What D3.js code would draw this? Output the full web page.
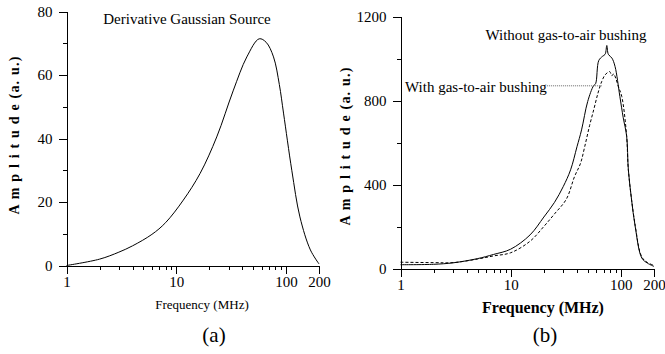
<!doctype html>
<html>
<head>
<script src="https://cdn.jsdelivr.net/npm/d3@7"></script>
<style>
  body { margin: 0; background: #fff; }
  svg { display: block; font-family: "Liberation Serif", "DejaVu Serif", serif; }
  svg text { font-family: "Liberation Serif", "DejaVu Serif", serif !important; }
  .axis path, .axis line { stroke: #000; stroke-width: 1; shape-rendering: crispEdges; }
</style>
</head>
<body>
<svg width="665" height="354"></svg>
<script>
// panel (a): derivative gaussian source spectrum
var freqA = [1, 2, 3, 4, 6, 8, 11.6, 16.5, 23.4, 33, 44, 57, 66, 77, 87, 95, 113, 134, 167, 200];
var ampA  = [0, 2, 4.2, 6.2, 9.8, 13.5, 20.6, 29, 40.5, 55, 65.7, 71.4, 70.3, 65.7, 57, 48, 30, 15.3, 4.9, 0.5];

// panel (b): without bushing (solid) / with bushing (dashed)
var freqSolid = [1, 2, 3, 5, 7, 10, 15, 20, 25, 30, 35, 40, 44, 50, 56.5, 59, 63, 68, 72, 74.6, 77, 83, 88.6, 98, 105, 113, 117, 125, 135, 155, 175, 200];
var ampSolid  = [18, 20, 27, 47, 67, 92, 160, 245, 315, 390, 470, 580, 660, 795, 870, 880, 990, 1010, 1020, 1062, 1020, 1002, 962, 819, 720, 629, 470, 330, 200, 50, 25, 10];
var freqDash = [1, 2, 3, 5, 7, 10, 15, 20, 25, 32, 38, 43, 47, 52, 57, 62, 67, 72, 79, 83, 86, 90, 95, 102, 113, 117, 135, 155, 175, 200];
var ampDash  = [30, 28, 28, 45, 60, 75, 130, 200, 260, 330, 438, 500, 580, 680, 760, 835, 890, 922, 938, 918, 927, 905, 866, 819, 629, 470, 205, 55, 28, 15];

var xMajor = [1, 10, 100, 200];
var xMinor = [2, 3, 4, 5, 6, 7, 8, 9, 20, 30, 40, 50, 60, 70, 80, 90];
var yMajorA = [0, 20, 40, 60, 80];
var yMinorA = [10, 30, 50, 70];
var yMajorB = [0, 400, 800, 1200];
var yMinorB = [200, 600, 1000];

var svg = d3.select("svg");

function panel(opt) {
  var x = d3.scaleLog().domain([1, 200]).range([opt.left, opt.right]);
  var y = d3.scaleLinear().domain([0, opt.ymax]).range([opt.bottom, opt.top]);
  var g = svg.append("g");

  // x axis: minor then major
  g.append("g").attr("class", "axis").attr("transform", "translate(0," + opt.bottom + ")")
    .call(d3.axisBottom(x).tickValues(xMinor).tickSize(4).tickFormat(""))
    .select(".domain").remove();
  var xa = g.append("g").attr("class", "axis").attr("transform", "translate(0," + opt.bottom + ")")
    .call(d3.axisBottom(x).tickValues(xMajor).tickSize(8).tickSizeOuter(0).tickPadding(3).tickFormat(d3.format("d")));
  xa.attr("font-family", null).attr("font-size", 15);
  xa.select(".domain").attr("d", "M" + (opt.left - 8) + ",0.5H" + opt.right);

  // y axis
  g.append("g").attr("class", "axis").attr("transform", "translate(" + opt.left + ",0)")
    .call(d3.axisLeft(y).tickValues(opt.yMinor).tickSize(4).tickFormat(""))
    .select(".domain").remove();
  var ya = g.append("g").attr("class", "axis").attr("transform", "translate(" + opt.left + ",0)")
    .call(d3.axisLeft(y).tickValues(opt.yMajor).tickSize(8).tickSizeOuter(0).tickPadding(6).tickFormat(d3.format("d")));
  ya.attr("font-family", null).attr("font-size", 15);
  ya.select(".domain").attr("d", "M0.5," + opt.top + "V" + (opt.bottom + 8));

  // labels
  g.append("text").attr("x", opt.xlabX).attr("y", opt.xlabY).attr("text-anchor", "middle")
    .attr("font-size", opt.xlabSize).attr("font-weight", opt.xlabBold ? "bold" : "normal")
    .text("Frequency (MHz)");
  g.append("text").attr("transform", "translate(" + opt.ylabX + "," + opt.ylabY + ") rotate(-90)")
    .attr("text-anchor", "middle").attr("font-size", 14).attr("font-weight", "bold")
    .attr("letter-spacing", 1.2)
    .text("A m p l i t u d e  (a. u.)");
  g.append("text").attr("x", opt.capX).attr("y", 342).attr("text-anchor", "middle")
    .attr("font-size", 21).text(opt.cap);

  return { x: x, y: y, g: g };
}

var pa = panel({ left: 66.5, right: 319, top: 11.5, bottom: 265.5, ymax: 80,
  yMajor: yMajorA, yMinor: yMinorA, xlabX: 202, xlabY: 309, xlabSize: 13, xlabBold: false,
  ylabX: 19, ylabY: 135, cap: "(a)", capX: 214 });

var pb = panel({ left: 400.5, right: 654, top: 16.5, bottom: 268.5, ymax: 1200,
  yMajor: yMajorB, yMinor: yMinorB, xlabX: 543, xlabY: 313, xlabSize: 16, xlabBold: true,
  ylabX: 350, ylabY: 146, cap: "(b)", capX: 545 });

function curve(p, fx, fy, dash) {
  var pts = fx.map(function(f, i) { return [f, fy[i]]; });
  var line = d3.line()
    .x(function(d) { return p.x(d[0]); })
    .y(function(d) { return p.y(d[1]); })
    .curve(d3.curveCatmullRom.alpha(0.5));
  p.g.append("path").attr("d", line(pts)).attr("fill", "none")
    .attr("stroke", "#000").attr("stroke-width", 1)
    .attr("stroke-dasharray", dash || null);
}

curve(pa, freqA, ampA);
curve(pb, freqDash, ampDash, "3,2");
curve(pb, freqSolid, ampSolid);

pa.g.append("text").attr("x", 187).attr("y", 24).attr("text-anchor", "middle")
  .attr("font-size", 15).text("Derivative Gaussian Source");

pb.g.append("text").attr("x", 566).attr("y", 40).attr("text-anchor", "middle")
  .attr("font-size", 15).text("Without gas-to-air bushing");
var wt = pb.g.append("text").attr("x", 405).attr("y", 92)
  .attr("font-size", 15).text("With gas-to-air bushing");
var wEnd = 405 + wt.node().getComputedTextLength();
pb.g.append("line").attr("x1", wEnd).attr("x2", pb.x(67)).attr("y1", pb.y(870)).attr("y2", pb.y(870))
  .attr("stroke", "#666").attr("stroke-width", 1).attr("stroke-dasharray", "1,1");
</script>
</body>
</html>
